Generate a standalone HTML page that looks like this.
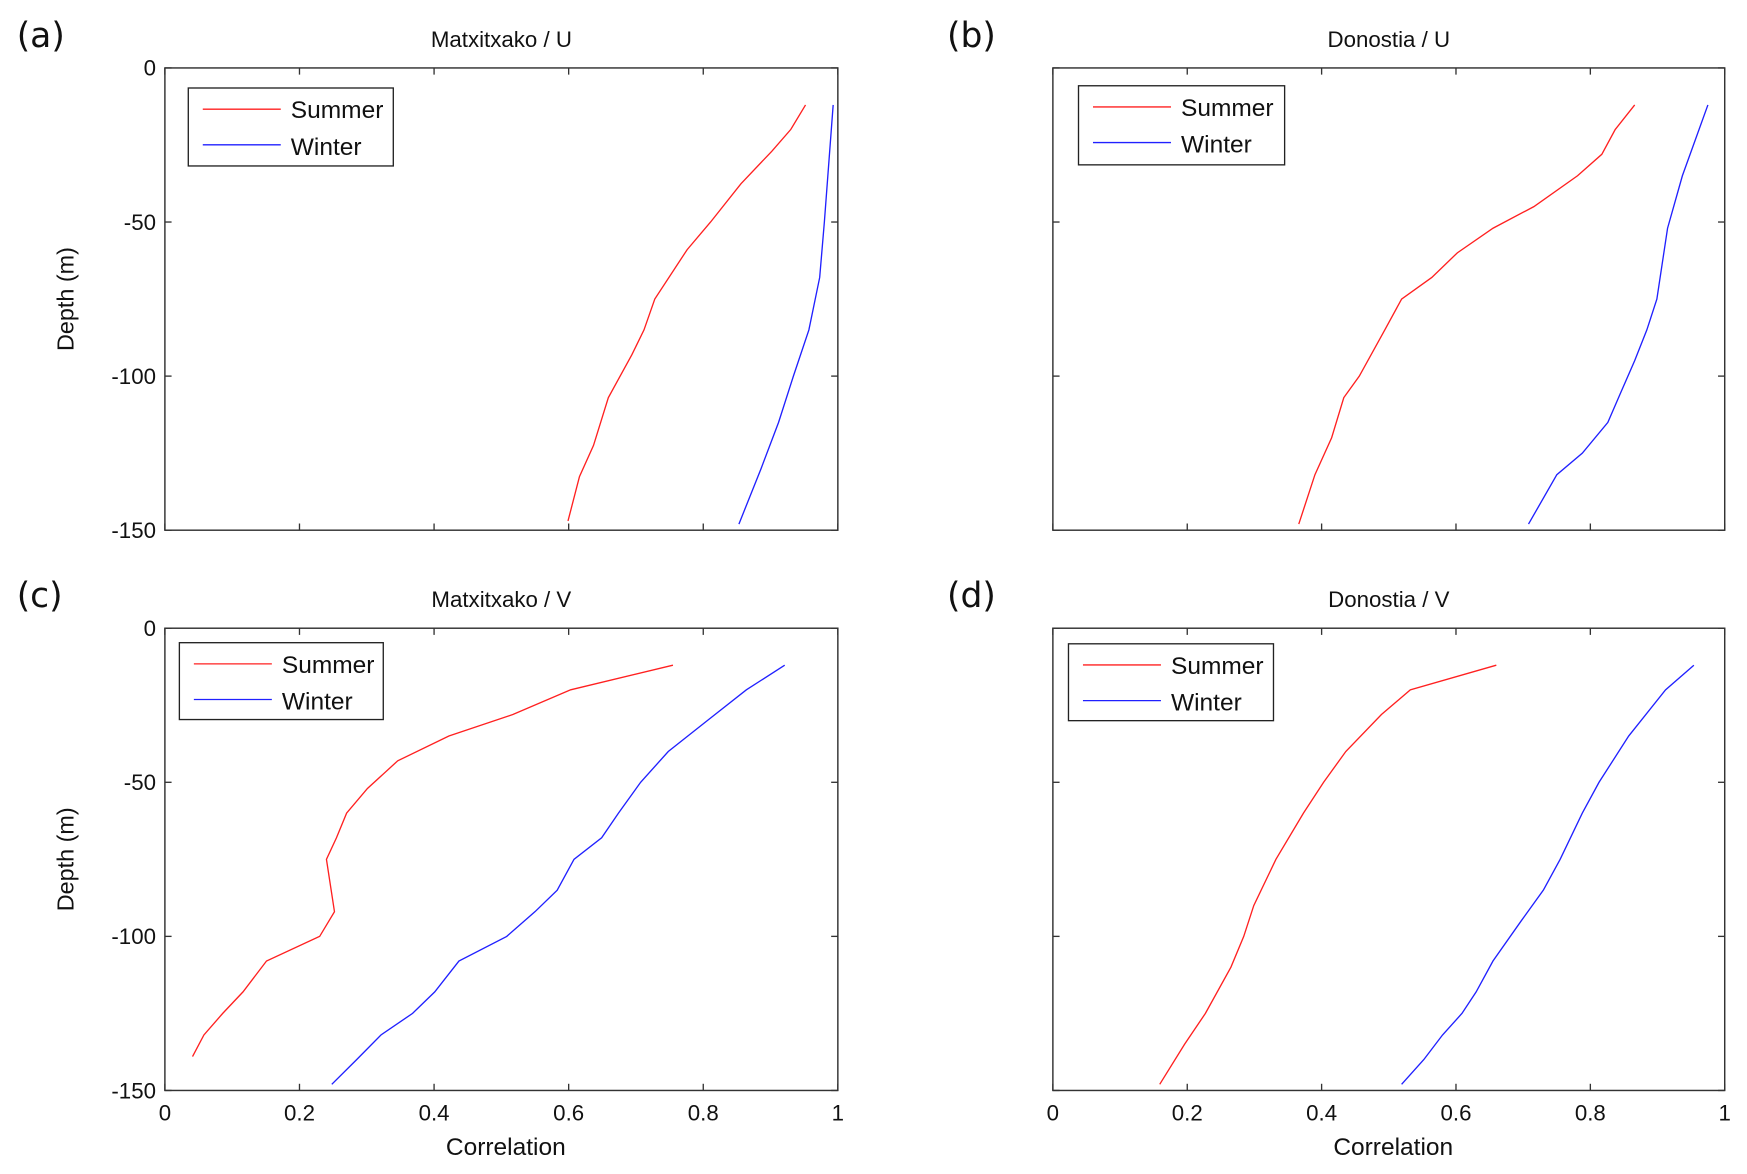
<!DOCTYPE html>
<html><head><meta charset="utf-8"><style>
html,body{margin:0;padding:0;background:#fff;}
svg{display:block;}
text{font-family:"Liberation Sans",Arial,sans-serif;fill:#111;}
.pl{font-family:"DejaVu Sans","Liberation Sans",sans-serif;}
</style></head><body>
<svg id="fig" width="1747" height="1174" viewBox="0 0 1568 1054" preserveAspectRatio="none" xmlns="http://www.w3.org/2000/svg"></svg>
<script>
// depth samples (m) and correlation values per panel
const aSumD=[-12,-20,-27,-37.6,-50,-59,-75,-85,-93,-107,-122.5,-132.6,-147];
const aSumV=[0.952,0.93,0.902,0.856,0.811,0.776,0.728,0.712,0.694,0.659,0.637,0.616,0.599];
const aWinD=[-12,-50,-68,-85,-100,-115,-130,-148];
const aWinV=[0.993,0.98,0.973,0.957,0.934,0.912,0.886,0.853];
const bSumD=[-12,-20,-28,-35,-45,-52,-60,-68,-75,-85,-100,-107,-120,-132,-148];
const bSumV=[0.866,0.837,0.817,0.781,0.716,0.655,0.602,0.564,0.519,0.494,0.456,0.433,0.415,0.39,0.366];
const bWinD=[-12,-35,-52,-75,-85,-95,-105,-115,-125,-132,-148];
const bWinV=[0.975,0.937,0.915,0.899,0.884,0.866,0.846,0.826,0.788,0.75,0.708];
const cSumD=[-12,-20,-28,-35,-43,-52,-60,-68,-75,-92,-100,-108,-118,-125,-132,-139];
const cSumV=[0.755,0.603,0.517,0.422,0.346,0.301,0.27,0.255,0.24,0.252,0.23,0.151,0.116,0.086,0.058,0.041];
const cWinD=[-12,-20,-30,-40,-50,-60,-68,-75,-85,-92,-100,-108,-118,-125,-132,-140,-148];
const cWinV=[0.921,0.864,0.806,0.748,0.707,0.674,0.649,0.608,0.583,0.55,0.508,0.437,0.401,0.368,0.321,0.285,0.248];
const dSumD=[-12,-20,-28,-40,-50,-60,-75,-90,-100,-110,-125,-135,-148];
const dSumV=[0.66,0.532,0.489,0.436,0.403,0.373,0.332,0.299,0.284,0.265,0.227,0.196,0.159];
const dWinD=[-12,-20,-35,-50,-60,-75,-85,-95,-108,-118,-125,-132,-140,-148];
const dWinV=[0.954,0.912,0.857,0.813,0.788,0.755,0.73,0.697,0.655,0.63,0.609,0.58,0.552,0.519];
const xTicks=[0,0.2,0.4,0.6,0.8,1];
const xTickLabels=["0","0.2","0.4","0.6","0.8","1"];
const yTicks=[0,-50,-100,-150];
const yTickLabels=["0","-50","-100","-150"];

const NS="http://www.w3.org/2000/svg";
const svg=document.getElementById('fig');
function mk(tag,attrs,parent){const e=document.createElementNS(NS,tag);for(const k in attrs)e.setAttribute(k,attrs[k]);(parent||svg).appendChild(e);return e;}

const panels=[
 {id:'a',letter:'(a)',title:'Matxitxako / U',L:148,T:61,W:604,H:415,xl:false,yl:true,lx:15,leg:[169,79,184,70],s:[aSumD,aSumV],w:[aWinD,aWinV]},
 {id:'b',letter:'(b)',title:'Donostia / U',L:945,T:61,W:603,H:415,xl:false,yl:false,lx:850,leg:[968,77,185,71],s:[bSumD,bSumV],w:[bWinD,bWinV]},
 {id:'c',letter:'(c)',title:'Matxitxako / V',L:148,T:564,W:604,H:415,xl:true,yl:true,lx:15,leg:[161,577,183,69],s:[cSumD,cSumV],w:[cWinD,cWinV]},
 {id:'d',letter:'(d)',title:'Donostia / V',L:945,T:564,W:603,H:415,xl:true,yl:false,lx:850,leg:[959,578,184,69],s:[dSumD,dSumV],w:[dWinD,dWinV]}
];

panels.forEach(p=>{
  const g=mk('g',{});
  
  
  const xs=v=>p.L+v*p.W;
  const ys=d=>p.T-d/150*p.H;
  const lt=mk('text',{x:p.lx,y:p.T-19,'font-size':31,class:'pl'},g);lt.textContent=p.letter;
  
  
  const tt=mk('text',{x:p.L+p.W/2,y:p.T-19,'font-size':20,'text-anchor':'middle'},g);tt.textContent=p.title;
  
  
  const ax=mk('rect',{x:p.L,y:p.T,width:p.W,height:p.H,fill:'none',stroke:'#333','stroke-width':1.3},g);
  
  
  xTicks.forEach((t,i)=>{
    const x=xs(t);
    mk('line',{x1:x,y1:p.T+p.H,x2:x,y2:p.T+p.H-6,stroke:'#333','stroke-width':1.2},g);
    mk('line',{x1:x,y1:p.T,x2:x,y2:p.T+6,stroke:'#333','stroke-width':1.2},g);
    if(p.xl){const tl=mk('text',{x:x,y:p.T+p.H+27,'font-size':20,'text-anchor':'middle'},g);tl.textContent=xTickLabels[i];
      
      }
  });
  yTicks.forEach((t,i)=>{
    const y=ys(t);
    mk('line',{x1:p.L,y1:y,x2:p.L+6,y2:y,stroke:'#333','stroke-width':1.2},g);
    mk('line',{x1:p.L+p.W,y1:y,x2:p.L+p.W-6,y2:y,stroke:'#333','stroke-width':1.2},g);
    if(p.yl){const tl=mk('text',{x:p.L-8,y:y+7,'font-size':20,'text-anchor':'end'},g);tl.textContent=yTickLabels[i];
      
      }
  });
  if(p.yl){const yt=mk('text',{x:0,y:0,'font-size':21,'text-anchor':'middle',transform:`translate(${p.L-82},${p.T+p.H/2}) rotate(-90)`},g);yt.textContent='Depth (m)';
    
    }
  if(p.xl){const xt=mk('text',{x:p.L+p.W/2+4,y:p.T+p.H+58,'font-size':22,'text-anchor':'middle'},g);xt.textContent='Correlation';
    
    }
  [[p.s,'#ff2020','summer'],[p.w,'#2020ff','winter']].forEach(([ser,col,nm])=>{
    const pts=ser[0].map((d,i)=>xs(ser[1][i]).toFixed(1)+','+ys(d).toFixed(1)).join(' ');
    const pl=mk('polyline',{points:pts,fill:'none',stroke:col,'stroke-width':1.2},g);
    
    
  });
  const [lx,ly,lw,lh]=p.leg;
  const lg=mk('g',{},g);
  
  
  mk('rect',{x:lx,y:ly,width:lw,height:lh,fill:'#fff',stroke:'#222','stroke-width':1.2},lg);
  mk('line',{x1:lx+13,y1:ly+19,x2:lx+83,y2:ly+19,stroke:'#ff2020','stroke-width':1.2},lg);
  mk('line',{x1:lx+13,y1:ly+51,x2:lx+83,y2:ly+51,stroke:'#2020ff','stroke-width':1.2},lg);
  const s1=mk('text',{x:lx+92,y:ly+27,'font-size':22},lg);s1.textContent='Summer';
  
  
  const s2=mk('text',{x:lx+92,y:ly+60,'font-size':22},lg);s2.textContent='Winter';
  
  
});
</script>
</body></html>
